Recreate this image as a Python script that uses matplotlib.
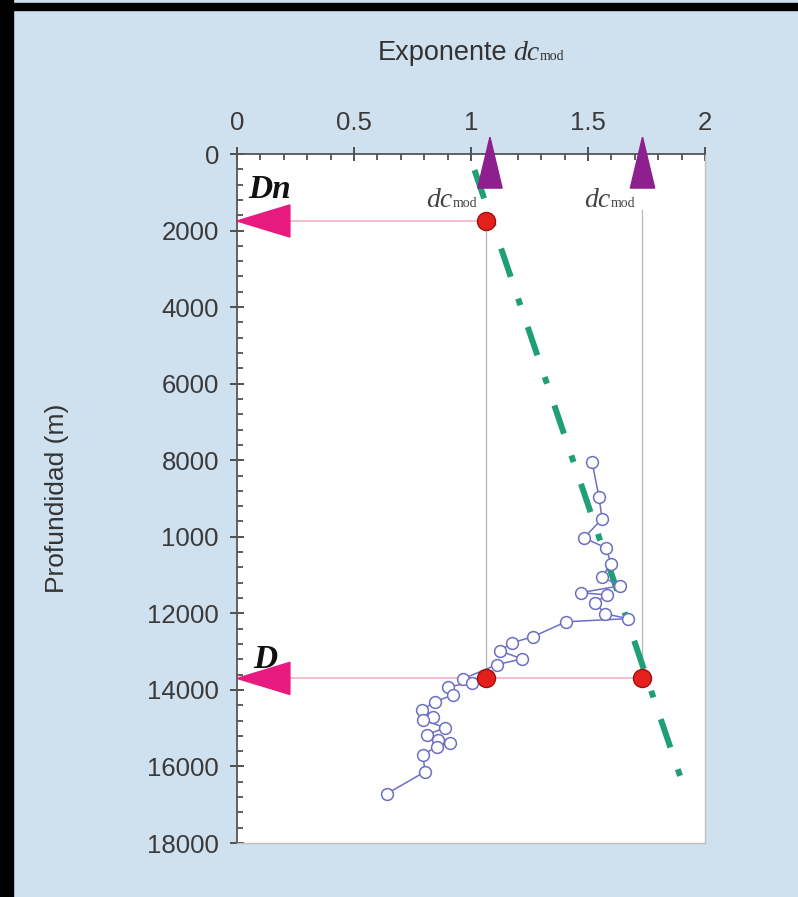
import matplotlib
matplotlib.use("Agg")
import matplotlib.pyplot as plt
from matplotlib.patches import Rectangle, Polygon
from matplotlib.ticker import MultipleLocator

# ---------------- data ----------------
x_ticks = [0, 0.5, 1, 1.5, 2]
x_tick_labels = ['0', '0.5', '1', '1.5', '2']
y_ticks = [0, 2000, 4000, 6000, 8000, 10000, 12000, 14000, 16000, 18000]
y_tick_labels = ['0', '2000', '4000', '6000', '8000', '1000', '12000', '14000', '16000', '18000']

dc_obs = [1.517, 1.547, 1.560, 1.483, 1.577, 1.598, 1.560, 1.637, 1.470, 1.581,
          1.530, 1.573, 1.671, 1.406, 1.265, 1.175, 1.124, 1.218, 1.111, 0.966,
          1.004, 0.902, 0.923, 0.846, 0.791, 0.838, 0.795, 0.889, 0.812, 0.859,
          0.910, 0.855, 0.795, 0.803, 0.641]
depth_obs = [8040, 8960, 9530, 10030, 10290, 10700, 11050, 11280, 11460, 11520,
             11720, 12010, 12140, 12220, 12610, 12770, 12980, 13190, 13340, 13710,
             13810, 13920, 14130, 14310, 14520, 14700, 14780, 14990, 15170, 15300,
             15380, 15480, 15690, 16140, 16710]

trend_dc = [1.015, 1.906]
trend_depth = [420, 16475]

key_dc = [1.065, 1.065, 1.73]
key_depth = [1750, 13700, 13700]

dn_depth = 1750
d_depth = 13700
dc_normal = 1.065
dc_obs_at_d = 1.73

# ---------------- figure ----------------
W, H = 798, 897
fig = plt.figure(figsize=(W / 100, H / 100), dpi=100)
fig.patch.set_facecolor('#cfe0ee')

# black frame (left and top)
fig.add_artist(Rectangle((0, 0), 13 / W, 1, transform=fig.transFigure,
                         color='black', zorder=10))
fig.add_artist(Rectangle((0, 1 - 10 / H), 1, 7 / H, transform=fig.transFigure,
                         color='black', zorder=10))

ax = fig.add_axes([237 / W, 1 - 843 / H, (705 - 237) / W, (843 - 154) / H])
ax.set_facecolor('white')

ax.set_xlim(0, 2)
ax.set_ylim(18000, 0)

sans = 'Liberation Sans'
serif = 'Liberation Serif'
tick_col = '#3a3a3a'

ax.xaxis.tick_top()
ax.set_xticks(x_ticks)
ax.set_xticklabels(x_tick_labels, fontsize=18.5, family=sans, color=tick_col)
ax.set_yticks(y_ticks)
ax.set_yticklabels(y_tick_labels, fontsize=18.5, family=sans, color=tick_col)
ax.xaxis.set_minor_locator(MultipleLocator(0.1))
ax.yaxis.set_minor_locator(MultipleLocator(400))

ax.tick_params(axis='x', which='major', direction='inout', length=10, width=1.3,
               color='#444444', pad=9, top=True, bottom=False,
               labeltop=True, labelbottom=False)
ax.tick_params(axis='x', which='minor', direction='in', length=4.5, width=1.2,
               color='#444444', top=True, bottom=False)
ax.tick_params(axis='y', which='major', direction='inout', length=10, width=1.3,
               color='#444444', pad=8, left=True, right=False)
ax.tick_params(axis='y', which='minor', direction='in', length=4.5, width=1.2,
               color='#444444', left=True, right=False)

for s in ['top', 'left']:
    ax.spines[s].set_color('#555555')
    ax.spines[s].set_linewidth(1.3)
for s in ['right', 'bottom']:
    ax.spines[s].set_color('#c0c0c0')
    ax.spines[s].set_linewidth(1.0)

ax.set_ylabel('Profundidad (m)', fontsize=19, family=sans, color='#333333',
              labelpad=56)

# gray vertical reference lines
ax.plot([dc_normal, dc_normal], [dn_depth, d_depth], color='#b5b5b5', lw=0.9, zorder=2)
ax.plot([dc_obs_at_d, dc_obs_at_d], [1450, d_depth], color='#b5b5b5', lw=0.9, zorder=2)

# pink horizontal lines
ax.plot([0.226, dc_normal], [dn_depth, dn_depth], color='#f5b3c6', lw=1.2, zorder=2)
ax.plot([0.226, dc_obs_at_d], [d_depth, d_depth], color='#f5b3c6', lw=1.2, zorder=2)

# green trend line
ax.plot(trend_dc, trend_depth, color='#1f9e78', lw=4.3,
        dashes=[5.0, 3.85, 1.17, 3.85], dash_capstyle='butt', zorder=3)

# observed data
ax.plot(dc_obs, depth_obs, color='#6d70c2', lw=1.1, marker='o', ms=8.5,
        mfc='white', mec='#6d70c2', mew=1.1, zorder=4)

# key red dots
ax.plot(key_dc, key_depth, ls='none', marker='o', ms=13, mfc='#e3201b',
        mec='#a01010', mew=1.0, zorder=6)

# magenta arrows pointing to depth axis
for dep in [dn_depth, d_depth]:
    ax.add_patch(Polygon([[0.0, dep], [0.226, dep - 420], [0.226, dep + 420]],
                         closed=True, color='#e8197f', clip_on=False, zorder=7))

# purple triangles at top
for xc in [1.081, 1.733]:
    ax.add_patch(Polygon([[xc, -440], [xc - 0.052, 890], [xc + 0.052, 890]],
                         closed=True, color='#8e1f8e', clip_on=False, zorder=8))

# labels Dn and D
ax.text(0.047, 1150, 'Dn', fontsize=24, family=serif, fontweight='bold',
        style='italic', color='#111111', va='baseline', ha='left', zorder=9)
ax.text(0.07, 13420, 'D', fontsize=24, family=serif, fontweight='bold',
        style='italic', color='#111111', va='baseline', ha='left', zorder=9)

# dc_mod labels in plot
for xj in [0.919, 1.594]:
    ax.text(xj, 1384, 'dc', fontsize=20, family=serif, style='italic',
            color='#444444', va='baseline', ha='right', zorder=9)
    ax.text(xj + 0.004, 1384, 'mod', fontsize=10, family=serif,
            color='#444444', va='baseline', ha='left', zorder=9)

# title "Exponente dc_mod"
fig.text(507 / W, 1 - 60 / H, 'Exponente', fontsize=19.5, family=sans,
         color='#333333', ha='right', va='baseline')
fig.text(513 / W, 1 - 60 / H, 'dc', fontsize=20, family=serif, style='italic',
         color='#333333', ha='left', va='baseline')
fig.text(540 / W, 1 - 60 / H, 'mod', fontsize=10, family=serif,
         color='#333333', ha='left', va='baseline')

fig.savefig('out.png', dpi=100)
